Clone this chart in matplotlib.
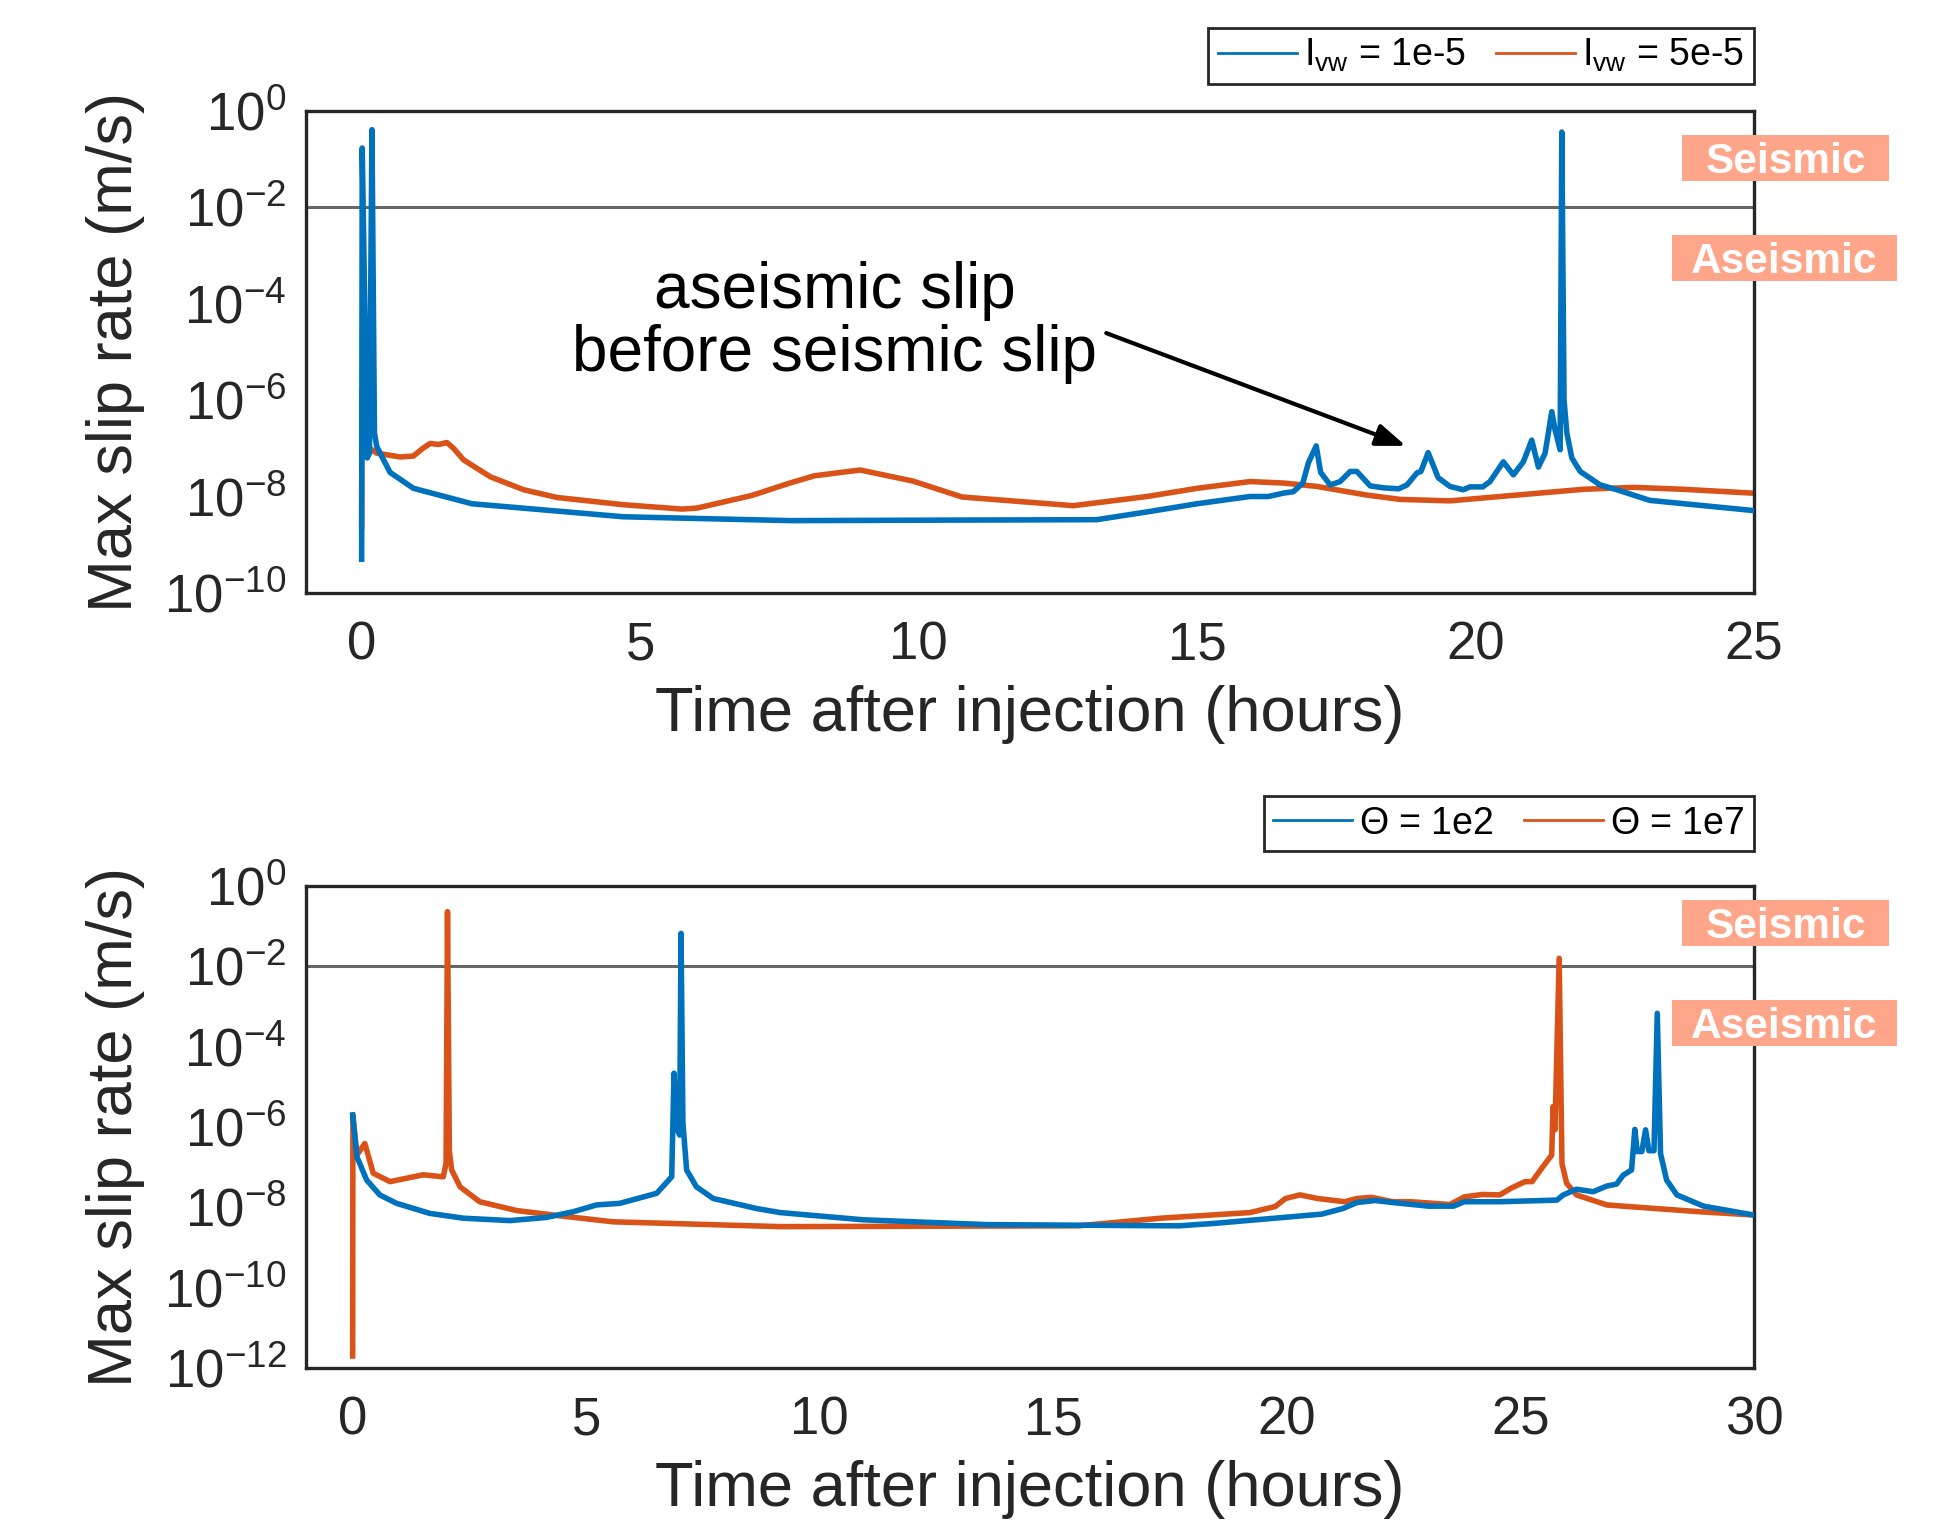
import numpy as np
import matplotlib
matplotlib.use('Agg')
import matplotlib.pyplot as plt
from matplotlib.patches import Rectangle
from matplotlib.ticker import FuncFormatter, NullLocator

plt.rcParams['font.family'] = ['Liberation Sans', 'DejaVu Sans']
plt.rcParams['mathtext.fontset'] = 'custom'
plt.rcParams['mathtext.rm'] = 'Liberation Sans'
plt.rcParams['mathtext.it'] = 'Liberation Sans:italic'
plt.rcParams['mathtext.bf'] = 'Liberation Sans:bold'

BLUE = '#0072BD'
ORANGE = '#D95319'
SALMON = '#FFA589'
DARK = '#262626'

# --- top panel: Ivw = 1e-5 / 5e-5 (time in hours, log10 of max slip rate) ---
top_blue_t = [0.0, 0.01, 0.1, 0.14, 0.185, 0.23, 0.27, 0.51, 0.93, 1.98, 4.7, 7.7,
              13.2, 14.1, 15.0, 15.95, 16.28, 16.55, 16.73, 16.9, 17.0, 17.14, 17.22,
              17.39, 17.57, 17.75, 17.87, 18.11, 18.35, 18.62, 18.77, 18.95, 19.02,
              19.15, 19.33, 19.54, 19.78, 19.9, 20.13, 20.26, 20.5, 20.68, 20.86,
              21.01, 21.13, 21.25, 21.37, 21.43, 21.52, 21.55, 21.59, 21.64, 21.73,
              21.88, 22.24, 22.54, 23.13, 24.98]
top_blue_logv = [-9.3, -0.77, -7.2, -7.1, -0.39, -6.68, -6.96, -7.5, -7.83, -8.15, -8.42, -8.5,
                 -8.48, -8.32, -8.15, -8.0, -8.0, -7.93, -7.9, -7.72, -7.3, -6.95, -7.5,
                 -7.76, -7.69, -7.48, -7.48, -7.78, -7.82, -7.84, -7.76, -7.51, -7.48,
                 -7.09, -7.61, -7.79, -7.86, -7.8, -7.8, -7.69, -7.28, -7.55, -7.28,
                 -6.83, -7.39, -7.1, -6.24, -6.62, -7.03, -0.44, -6.0, -6.68, -7.2,
                 -7.48, -7.76, -7.86, -8.08, -8.29]

top_orange_t = [0.0, 0.005, 0.06, 0.27, 0.69, 0.93, 1.1, 1.23, 1.38, 1.53, 1.65, 1.83, 2.31, 2.91,
                3.51, 4.7, 5.75, 6.02, 7.0, 7.69, 8.13, 8.95, 9.9, 10.78, 12.78, 14.1,
                15.0, 15.95, 16.55, 17.15, 18.05, 18.65, 19.54, 20.74, 21.94, 22.84,
                23.73, 24.98]
top_orange_logv = [-8.62, -5.75, -6.93, -7.1, -7.18, -7.16, -7.0, -6.9, -6.92, -6.88, -7.0, -7.24,
                   -7.59, -7.86, -8.02, -8.17, -8.26, -8.24, -7.98, -7.72, -7.57, -7.45, -7.68,
                   -8.01, -8.19, -8.0, -7.83, -7.69, -7.72, -7.79, -7.97, -8.06, -8.09, -7.97,
                   -7.85, -7.81, -7.85, -7.93]

# --- bottom panel: Theta = 1e2 / 1e7 ---
bot_blue_t = [0.0, 0.09, 0.3, 0.58, 0.94, 1.65, 2.37, 3.37, 4.15, 4.72, 5.22, 5.72, 6.51,
              6.83, 6.88, 6.93, 7.0, 7.03, 7.07, 7.15, 7.36, 7.72, 8.65, 9.15, 10.93,
              13.57, 17.68, 18.44, 20.74, 21.2, 21.5, 21.89, 22.27, 23.03, 23.57, 23.8,
              24.56, 25.78, 25.92, 26.2, 26.56, 26.85, 27.06, 27.2, 27.38, 27.45, 27.5,
              27.6, 27.68, 27.75, 27.86, 27.93, 28.0, 28.13, 28.35, 28.92, 29.99]
bot_blue_logv = [-5.7, -6.74, -7.32, -7.69, -7.9, -8.15, -8.27, -8.33, -8.25, -8.11, -7.94, -7.9, -7.65,
                 -7.24, -4.66, -6.0, -6.2, -1.18, -5.9, -7.07, -7.49, -7.78, -8.03, -8.13, -8.31,
                 -8.43, -8.46, -8.4, -8.17, -8.03, -7.88, -7.83, -7.88, -7.97, -7.97, -7.86,
                 -7.86, -7.82, -7.69, -7.55, -7.61, -7.47, -7.42, -7.2, -7.07, -6.06, -6.61,
                 -6.61, -6.07, -6.59, -6.59, -3.17, -6.66, -7.32, -7.69, -7.97, -8.19]

bot_orange_t = [0.0, 0.005, 0.09, 0.26, 0.44, 0.8, 1.51, 1.94, 2.0, 2.03, 2.07, 2.12, 2.3,
                2.72, 3.51, 4.5, 5.58, 9.15, 15.54, 17.3, 19.21, 19.75, 19.97, 20.28, 20.66,
                21.24, 21.5, 21.81, 22.27, 22.65, 23.49, 23.8, 24.18, 24.56, 24.79, 25.1,
                25.25, 25.48, 25.67, 25.7, 25.74, 25.83, 25.89, 25.99, 26.2, 26.85, 28.84,
                29.99]
bot_orange_logv = [-11.7, -5.7, -6.7, -6.41, -7.15, -7.36, -7.19, -7.24, -6.9, -0.64, -6.6, -7.07, -7.49,
                   -7.86, -8.08, -8.22, -8.36, -8.48, -8.46, -8.27, -8.13, -7.98, -7.78, -7.69, -7.78,
                   -7.86, -7.78, -7.75, -7.86, -7.86, -7.93, -7.74, -7.68, -7.69, -7.53, -7.36,
                   -7.36, -6.99, -6.7, -5.49, -6.07, -1.8, -6.91, -7.4, -7.69, -7.94, -8.11,
                   -8.19]

top_labels = [r'$\mathregular{I_{vw}}$ = 1e-5', r'$\mathregular{I_{vw}}$ = 5e-5']
bot_labels = [r'$\Theta$ = 1e2', r'$\Theta$ = 1e7']
threshold = 1e-2


def style_axes(ax, xlim, xticks, ymin_exp):
    ax.set_yscale('log')
    ax.set_xlim(*xlim)
    ax.set_ylim(10.0 ** ymin_exp, 1e0)
    ax.set_xticks(xticks)
    ax.set_yticks([10.0 ** e for e in range(ymin_exp, 1, 2)])
    ax.yaxis.set_minor_locator(NullLocator())
    ax.yaxis.set_major_formatter(FuncFormatter(
        lambda v, p: r'$\mathregular{10^{%d}}$' % int(round(np.log10(v)))))
    ax.tick_params(length=0, labelsize=38, colors=DARK)
    ax.tick_params(axis='x', pad=20)
    ax.tick_params(axis='y', pad=14)
    for s in ax.spines.values():
        s.set_linewidth(2.4)
        s.set_color(DARK)
    ax.axhline(threshold, color='#666666', lw=2.2, zorder=1)
    ax.set_xlabel('Time after injection (hours)', fontsize=45.5, color=DARK, labelpad=10)
    ax.set_ylabel('Max slip rate (m/s)', fontsize=45.5, color=DARK, labelpad=14)


def regime_boxes(ax, seis_y, aseis_y):
    # salmon tags on the right: (x0, y0, width) in axes fraction
    for x0, y0, w, txt in [(0.950, seis_y, 0.1436, 'Seismic'),
                           (0.9434, aseis_y, 0.1554, 'Aseismic')]:
        ax.add_patch(Rectangle((x0, y0), w, 0.0954, transform=ax.transAxes,
                               facecolor=SALMON, edgecolor='none', clip_on=False, zorder=5))
        ax.text(x0 + w / 2, y0 + 0.0954 / 2 - 0.008, txt, transform=ax.transAxes, ha='center',
                va='center', color='white', fontsize=30.5, fontweight='bold', zorder=6)


def add_legend(ax, lines, labels, y_anchor):
    leg = ax.legend(lines, labels, loc='lower right', bbox_to_anchor=(1.0, y_anchor), ncol=2,
                    fancybox=False, framealpha=1, edgecolor=DARK, fontsize=27,
                    handlelength=2.1, handletextpad=0.2, columnspacing=0.8,
                    borderaxespad=0, borderpad=0.25)
    leg.get_frame().set_linewidth(2)
    for h in leg.get_lines():
        h.set_linewidth(2)


fig = plt.figure(figsize=(19.34, 15.27), dpi=100)
ax1 = fig.add_axes([0.1582, 0.6117, 0.7487, 0.3157])
ax2 = fig.add_axes([0.1582, 0.1041, 0.7487, 0.3157])

# 1. top panel
l1, = ax1.plot(top_blue_t, 10.0 ** np.array(top_blue_logv), color=BLUE, lw=4, zorder=3)
l2, = ax1.plot(top_orange_t, 10.0 ** np.array(top_orange_logv), color=ORANGE, lw=4, zorder=2)
style_axes(ax1, (-1, 25), [0, 5, 10, 15, 20, 25], -10)
add_legend(ax1, [l1, l2], top_labels, 1.056)
regime_boxes(ax1, 0.855, 0.647)
ax1.text(8.49, 10 ** -4.39, 'aseismic slip\nbefore seismic slip', ha='center', va='center',
         fontsize=46, linespacing=1.05, color='black')
ax1.annotate('', xy=(18.75, 10 ** -6.95), xytext=(13.37, 10 ** -4.61),
             arrowprops=dict(arrowstyle='-|>,head_length=0.4,head_width=0.15',
                             mutation_scale=45, lw=3, color='black', shrinkA=0, shrinkB=0))

# 2. bottom panel
l3, = ax2.plot(bot_blue_t, 10.0 ** np.array(bot_blue_logv), color=BLUE, lw=4, zorder=3)
l4, = ax2.plot(bot_orange_t, 10.0 ** np.array(bot_orange_logv), color=ORANGE, lw=4, zorder=2)
style_axes(ax2, (-1, 30), [0, 5, 10, 15, 20, 25, 30], -12)
add_legend(ax2, [l3, l4], bot_labels, 1.0726)
regime_boxes(ax2, 0.876, 0.668)

plt.savefig('out.png', dpi=100)
plt.close()
